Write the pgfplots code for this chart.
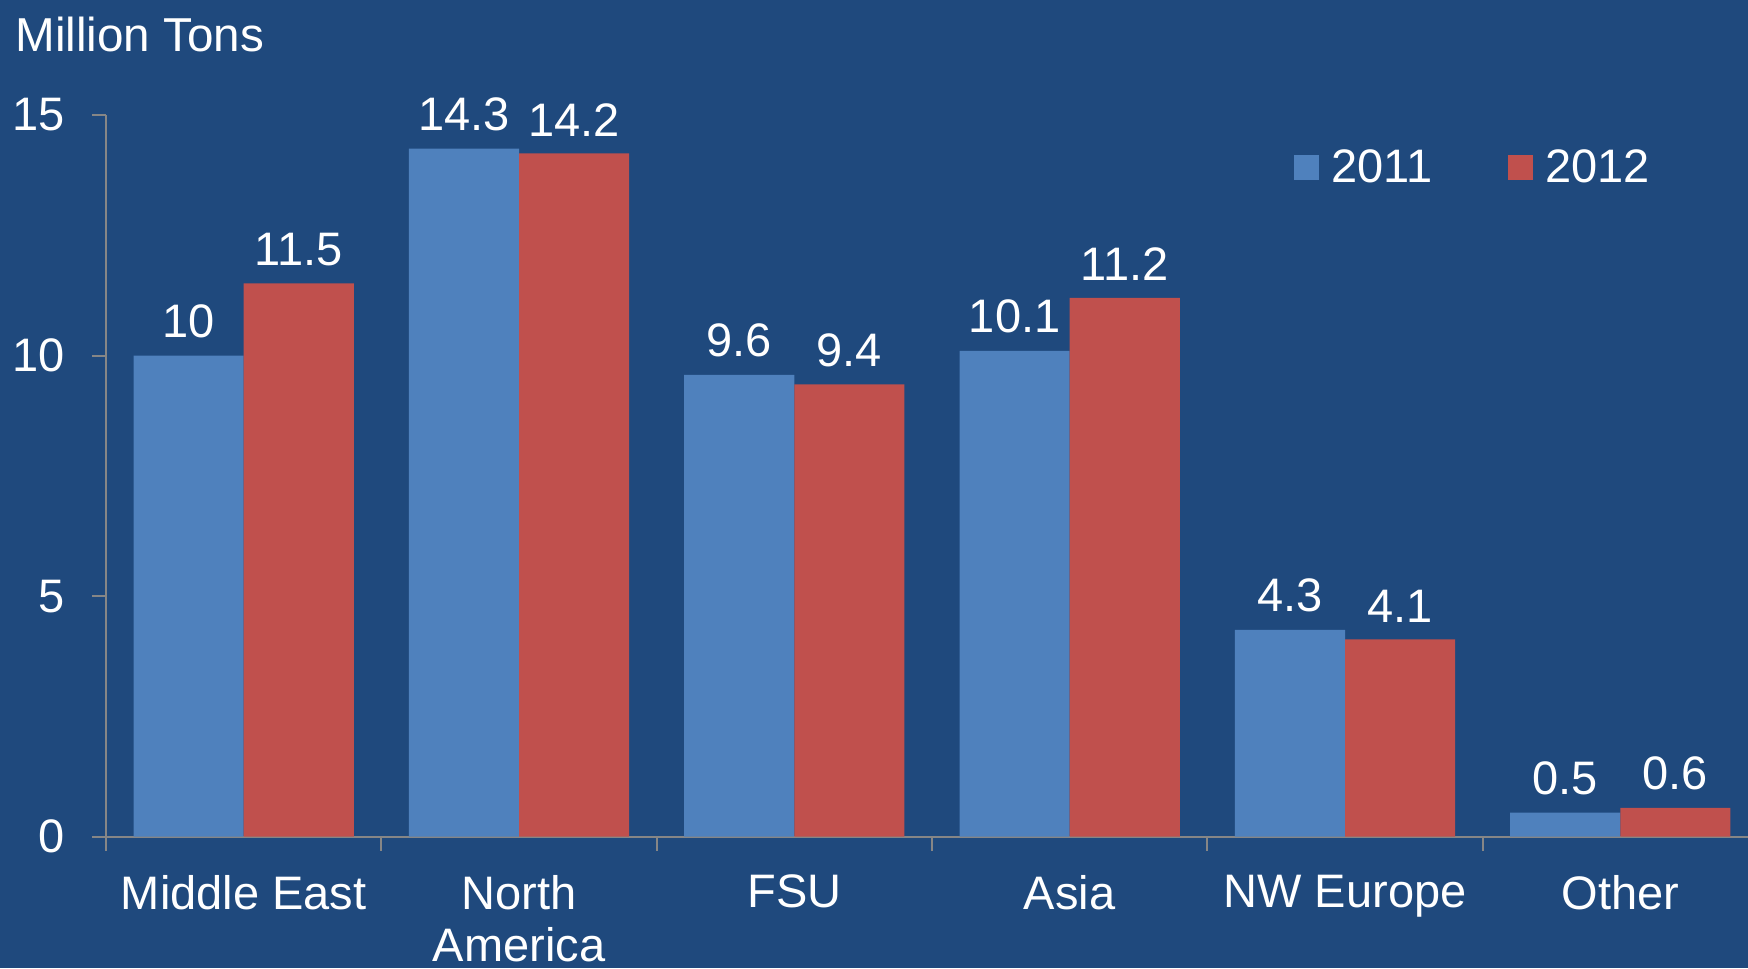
\documentclass[border=0pt]{standalone}
\usepackage{pgfplots}
\pgfplotsset{compat=1.18}
\usepackage{fontspec}
\setmainfont{Liberation Sans}
\definecolor{bgblue}{RGB}{31,73,125}
\definecolor{bar11}{RGB}{79,129,189}
\definecolor{bar12}{RGB}{192,80,77}
\definecolor{axisgray}{RGB}{134,134,134}
\newcommand{\lblfont}{\fontsize{23.5}{26}\selectfont}

\begin{document}
\begin{tikzpicture}
\fill[bgblue] (0,0) rectangle (874pt,-484pt);
\useasboundingbox (0,0) rectangle (874pt,-484pt);
\node[anchor=base west, inner sep=0pt, text=white, font=\fontsize{23.8}{28}\selectfont] at (7.5pt,-26pt) {Million Tons};
\begin{axis}[
  at={(53pt,-418.35pt)}, anchor=south west,
  scale only axis, width=821pt, height=360.85pt,
  xmin=-0.5, xmax=5.4637, ymin=0, ymax=15,
  enlargelimits=false, clip=false,
  axis lines*=left,
  axis line style={draw=axisgray, line width=1pt},
  ybar=0pt, bar width=0.4,
  xtick={0,...,5},
  xticklabels={Middle East, North\\America, FSU, Asia, NW Europe, Other},
  minor xtick={-0.5,0.5,1.5,2.5,3.5,4.5},
  ytick={0,5,10,15},
  tick align=outside,
  major tick length=7pt, minor tick length=7pt,
  tick style={draw=axisgray, line width=1pt},
  major x tick style={draw=none},
  /pgf/number format/assume math mode=true,
  ticklabel style={text=white, font=\lblfont, inner sep=0pt},
  xticklabel style={align=center, anchor=north, yshift=-12pt},
  yticklabel style={anchor=east, xshift=-13.5pt},
  nodes near coords,
  nodes near coords style={text=white, font=\lblfont, anchor=south, inner sep=0pt, yshift=8.5pt},
  legend columns=2,
  legend style={draw=none, fill=none, inner sep=0pt,
    at={(0.7235,0.9273)}, anchor=west,
    nodes={inner sep=0pt, text=white, font=\lblfont},
    /tikz/every odd column/.append style={column sep=6pt},
    /tikz/every even column/.append style={column sep=38pt}},
  legend image code/.code={\fill[#1] (0pt,-6.25pt) rectangle (12.5pt,6.25pt);},
]
\addplot[fill=bar11, draw=none] coordinates {(0,10) (1,14.3) (2,9.6) (3,10.1) (4,4.3) (5,0.5)};
\addplot[fill=bar12, draw=none] coordinates {(0,11.5) (1,14.2) (2,9.4) (3,11.2) (4,4.1) (5,0.6)};
\legend{2011,2012}
\end{axis}
\end{tikzpicture}
\end{document}
